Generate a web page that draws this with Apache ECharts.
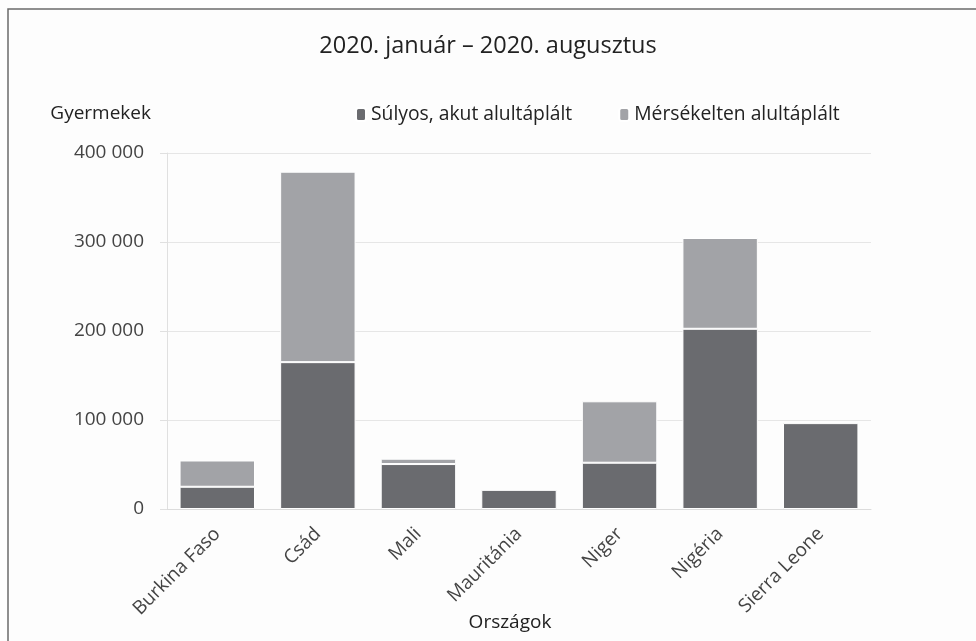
<!DOCTYPE html>
<html>
<head>
<meta charset="utf-8">
<script src="https://cdn.jsdelivr.net/npm/echarts@6/dist/echarts.min.js"></script>
<style>
  html, body { margin: 0; padding: 0; background: #ffffff; }
  #chart_container { width: 976px; height: 641px; }
</style>
</head>
<body>
<div id="chart_container"></div>
<script>
const countries = ['Burkina Faso', 'Csád', 'Mali', 'Mauritánia', 'Niger', 'Nigéria', 'Sierra Leone'];

// children, Jan-Aug 2020
const severe = [25000, 165000, 50500, 21500, 52000, 202500, 96500];
const moderate = [29500, 214000, 6000, null, 69000, 102000, null];

const y_ticks = [0, 100000, 200000, 300000, 400000];

const font = '"Open Sans", "Noto Sans", sans-serif';

function format_thousands(v){
    return String(v).replace(/\B(?=(\d{3})+(?!\d))/g, ' ');
}

document.addEventListener("DOMContentLoaded", function () {

    let chart_container = document.getElementById('chart_container');
    var chart = echarts.init(chart_container);

    var option = {
        backgroundColor: '#fdfdfd',
        textStyle: { fontFamily: font },
        title: {
            text: '2020. január – 2020. augusztus',
            left: 'center',
            top: 29,
            textStyle: { fontSize: 23.5, fontWeight: 'normal', color: '#222', fontFamily: font }
        },
        legend: {
            left: 355,
            top: 105,
            padding: 0,
            itemWidth: 10,
            itemHeight: 13,
            itemGap: 46,
            icon: 'roundRect',
            textStyle: { fontSize: 19.3, color: '#222', fontFamily: font },
            data: ['Súlyos, akut alultáplált', 'Mérsékelten alultáplált']
        },
        // border frame, only top and left are on the picture
        graphic: [
            {
                type: 'rect',
                shape: { x: 8, y: 9, width: 1000, height: 700 },
                style: { fill: 'none', stroke: '#6a6a6a', lineWidth: 1.5 },
                silent: true
            }
        ],
        grid: { left: 167, right: 105, top: 153, bottom: 132, outerBoundsMode: 'none', containLabel: false },
        xAxis: {
            type: 'category',
            data: countries,
            name: 'Országok',
            nameLocation: 'middle',
            nameGap: 104,
            nameMoveOverlap: false,
            nameTextStyle: { fontSize: 19, color: '#222', padding: [0, 18, 0, 0] },
            axisLine: { lineStyle: { color: '#dcdcdc' } },
            axisTick: { alignWithLabel: true, length: 6, lineStyle: { color: '#cfcfcf' } },
            axisLabel: { rotate: 45, margin: 22, fontSize: 19, color: '#444', interval: 0 }
        },
        yAxis: {
            type: 'value',
            min: y_ticks[0],
            max: y_ticks[y_ticks.length - 1],
            interval: 100000,
            name: 'Gyermekek',
            nameLocation: 'end',
            nameGap: 30,
            nameTextStyle: { fontSize: 19, color: '#222', align: 'right', padding: [0, 16, 0, 0] },
            axisLine: { show: true, lineStyle: { color: '#e0e0e0' } },
            axisTick: { show: true, length: 7, lineStyle: { color: '#e0e0e0' } },
            axisLabel: { margin: 23, fontSize: 19, color: '#444', formatter: format_thousands },
            splitLine: { lineStyle: { color: '#e6e6e6' } }
        },
        series: [
            {
                name: 'Súlyos, akut alultáplált',
                type: 'bar',
                stack: 'total',
                barWidth: '75%',
                data: severe,
                itemStyle: { color: '#6a6b6f', borderColor: '#ffffff', borderWidth: 1 }
            },
            {
                name: 'Mérsékelten alultáplált',
                type: 'bar',
                stack: 'total',
                barWidth: '75%',
                data: moderate,
                itemStyle: { color: '#a2a3a7', borderColor: '#ffffff', borderWidth: 1 }
            }
        ]
    };

    if (chart){
        chart.setOption(option);
    }else{
        console.error("Echart instance failed to init");
    }
});
</script>
</body>
</html>
